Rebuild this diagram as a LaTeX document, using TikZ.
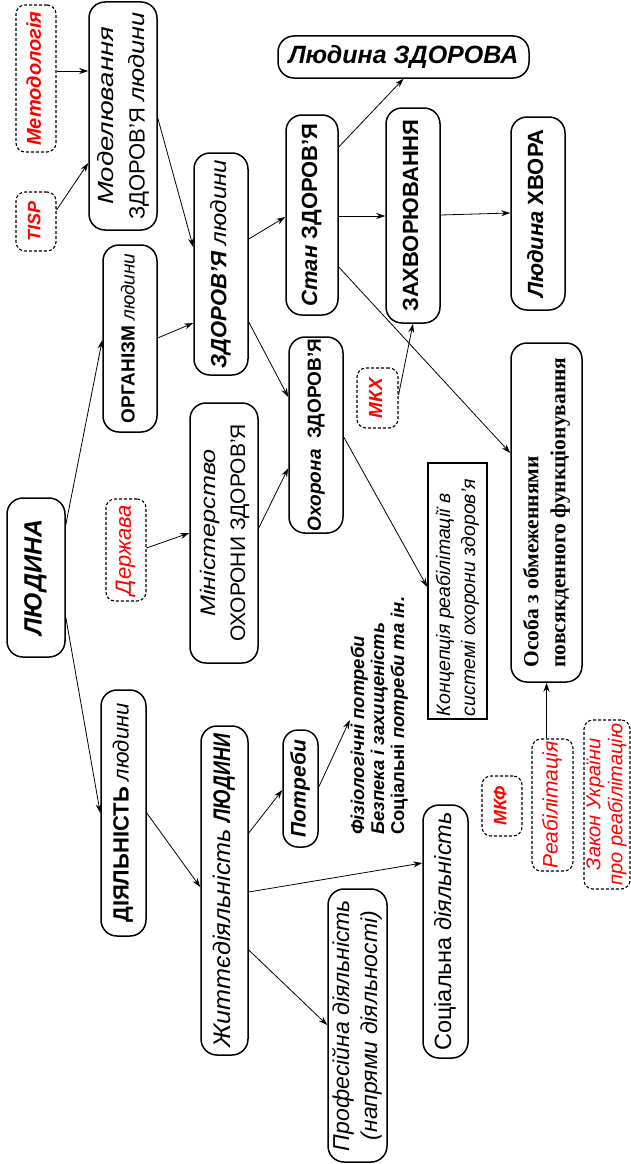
\documentclass[tikz,border=0pt]{standalone}
\usepackage{fontspec}
\setmainfont{Liberation Sans}
\newfontfamily\serifbold{Liberation Serif}
\usetikzlibrary{arrows.meta}
\definecolor{tred}{RGB}{255,0,0}
\newcommand\fsz[2]{\fontsize{#1}{#2}\selectfont}
% text set bottom-to-top, one or more lines
\newcommand\vt[2][c]{\rotatebox{90}{\begin{tabular}{@{}#1@{}}#2\end{tabular}}}
% stretch a piece of text along its reading direction
\newcommand\wide[2]{\scalebox{#1}[1]{#2}}

\begin{document}
\begin{tikzpicture}[x=1pt,y=-1pt,
  box/.style={draw, line width=1.5pt, rounded corners=16pt, inner sep=0pt},
  tag/.style={draw, line width=1.1pt, dash pattern=on 3pt off 2pt,
              rounded corners=9pt, inner sep=0pt, text=tred},
  link/.style={-{Stealth[length=9pt,width=6pt]}, line width=0.8pt},
]
\fill[white] (0,0) rectangle (631,1164);
\useasboundingbox (0,0) rectangle (631,1164);

% --- upper branch: model, organism, health ---
\node[tag, minimum width=40pt, minimum height=147pt, font=\fsz{20}{24}\bfseries\itshape]
  (met) at (36,78.5) {\vt{Методологія}};
\node[tag, minimum width=40pt, minimum height=59pt, font=\fsz{18}{22}\bfseries\itshape]
  (tisp) at (36,221.5) {\vt{TISP}};
\node[box, minimum width=68pt, minimum height=228pt, font=\fsz{22}{31}\itshape]
  (model) at (123,116) {\vt{\wide{1.25}{Моделювання}\\\upshape ЗДОРОВ’Я \itshape \wide{1.15}{людини}}};
\node[box, minimum width=54pt, minimum height=222pt, font=\fsz{22}{27}\itshape]
  (zl) at (221,264) {\vt{\bfseries ЗДОРОВ’Я \mdseries \wide{1.1}{людини}}};
\node[box, minimum width=52pt, minimum height=200pt, font=\fsz{22}{26}\bfseries]
  (stan) at (312,215) {\vt{\itshape Стан \upshape ЗДОРОВ’Я}};
\node[box, minimum width=251pt, minimum height=42pt, font=\fsz{25}{28}\bfseries\itshape]
  (lz) at (403.5,57) {Людина ЗДОРОВА};
\node[box, minimum width=54pt, minimum height=215pt, font=\fsz{22}{26}\bfseries]
  (zah) at (413,215.5) {\vt{ЗАХВОРЮВАННЯ}};
\node[box, minimum width=54pt, minimum height=193pt, font=\fsz{22}{26}\bfseries]
  (hv) at (538,213.5) {\vt{\itshape Людина \upshape ХВОРА}};
\node[box, minimum width=54pt, minimum height=187pt, font=\fsz{19}{23}]
  (org) at (130,338.5) {\vt{\bfseries ОРГАНІЗМ \mdseries\itshape людини}};

% --- centre: person, ministry, care ---
\node[box, minimum width=58pt, minimum height=159pt, font=\fsz{25}{28}\bfseries\itshape]
  (lyud) at (36,577.5) {\vt{ЛЮДИНА}};
\node[tag, minimum width=40pt, minimum height=102pt, font=\fsz{22}{24}\itshape]
  (derzh) at (126,550) {\vt{Держава}};
\node[box, minimum width=68pt, minimum height=260pt, font=\fsz{21}{30}]
  (min) at (224,533) {\vt{\itshape \wide{1.2}{Міністерство}\\ОХОРОНИ ЗДОРОВ’Я}};
\node[box, minimum width=54pt, minimum height=196pt, font=\fsz{19}{24}\bfseries]
  (ohor) at (316,435) {\vt{\itshape Охорона\ \ \upshape ЗДОРОВ’Я}};
\node[tag, minimum width=41pt, minimum height=60pt, font=\fsz{19}{23}\bfseries\itshape]
  (mkh) at (377.5,398) {\vt{МКХ}};
\node[draw, line width=1.5pt, inner sep=0pt, minimum width=59pt, minimum height=256pt,
      font=\fsz{19.5}{25}\itshape]
  (konc) at (457.5,591) {\vt[l]{\makebox[250pt][l]{Концепція реабілітації в}\\системі охорони здоров’я}};
\node[box, minimum width=71pt, minimum height=339pt, font=\serifbold\fsz{21.5}{27}\bfseries]
  (osoba) at (546.5,512.5) {\vt[l]{Особа з обмеженнями\\повсякденного функціонування}};

% --- lower branch: activity ---
\node[box, minimum width=45pt, minimum height=246pt, font=\fsz{22}{26}]
  (diyal) at (123.5,813) {\vt{\bfseries ДІЯЛЬНІСТЬ \mdseries\itshape людини}};
\node[box, minimum width=47pt, minimum height=329pt, font=\fsz{24}{28}\itshape]
  (zhyt) at (224.5,890.5) {\vt{\wide{1.05}{Життєдіяльність} \bfseries\wide{0.8}{ЛЮДИНИ}}};
\node[box, minimum width=35pt, minimum height=117pt, rounded corners=15pt,
      font=\fsz{21}{26}\bfseries\itshape]
  (potr) at (300.5,788.5) {\vt{Потреби}};
\node[inner sep=0pt, anchor=south, font=\fsz{18.5}{20}\bfseries\itshape]
  (fiz) at (380,835) {\vt[l]{Фізіологічні потреби\\Безпека і захищеність\\\upshape Соціальні \itshape потреби та ін.}};
\node[box, minimum width=59pt, minimum height=273pt, font=\fsz{23}{28}\itshape]
  (prof) at (357.5,1025.5) {\vt{Професійна діяльність\\(напрями діяльності)}};
\node[box, minimum width=45pt, minimum height=253pt, font=\fsz{23.5}{28}]
  (soc) at (445.5,931.5) {\vt{Соціальна \itshape діяльність}};
\node[tag, minimum width=40pt, minimum height=60pt, font=\fsz{18}{22}\bfseries\itshape]
  (mkf) at (502,806) {\vt{МКФ}};
\node[tag, minimum width=41pt, minimum height=132pt, font=\fsz{21}{25}\itshape]
  (reab) at (552.5,805) {\vt{Реабілітація}};
\node[tag, minimum width=46pt, minimum height=169pt, font=\fsz{20}{22}\itshape]
  (zakon) at (607,804.5) {\vt{Закон України\\про реабілітацію}};

% --- connectors ---
\draw[link] (met.east |- 0,71) -- (model.west |- 0,71);
\draw[link] (tisp.east |- 0,210) -- (model.west |- 0,163);
\draw[link] (model.east |- 0,118) -- (zl.west |- 0,247);
\draw[link] (zl.east |- 0,239) -- (stan.west |- 0,217);
\draw[link] (stan.east |- 0,147) -- (lz.south);
\draw[link] (stan.east |- 0,216) -- (zah.west |- 0,216);
\draw[link] (zah.east |- 0,215) -- (hv.west |- 0,213);
\draw[link] (lyud.east |- 0,525) -- (org.west |- 0,340);
\draw[link] (org.east |- 0,338) -- (zl.west |- 0,323);
\draw[link] (zl.east |- 0,322) -- (ohor.west |- 0,397);
\draw[link] (derzh.east |- 0,548) -- (min.west |- 0,533);
\draw[link] (min.east |- 0,528) -- (ohor.west |- 0,468);
\draw[link] (ohor.east |- 0,437) -- (konc.west |- 0,587);
\draw[link] (mkh.east |- 0,395) -- (zah.south);
\draw[link] (stan.east |- 0,267) -- (osoba.west |- 0,453);
\draw[link] (reab.north -| osoba.south) -- (osoba.south);
\draw[link] (lyud.east |- 0,617) -- (diyal.west |- 0,813);
\draw[link] (diyal.east |- 0,813) -- (zhyt.west |- 0,887);
\draw[link] (zhyt.east |- 0,833) -- (potr.west |- 0,790);
\draw[link] (potr.east |- 0,787) -- (fiz.west |- 0,720);
\draw[link] (zhyt.east |- 0,892) -- (soc.west |- 0,863);
\draw[link] (zhyt.east |- 0,950) -- (prof.west |- 0,1025);
\end{tikzpicture}
\end{document}
